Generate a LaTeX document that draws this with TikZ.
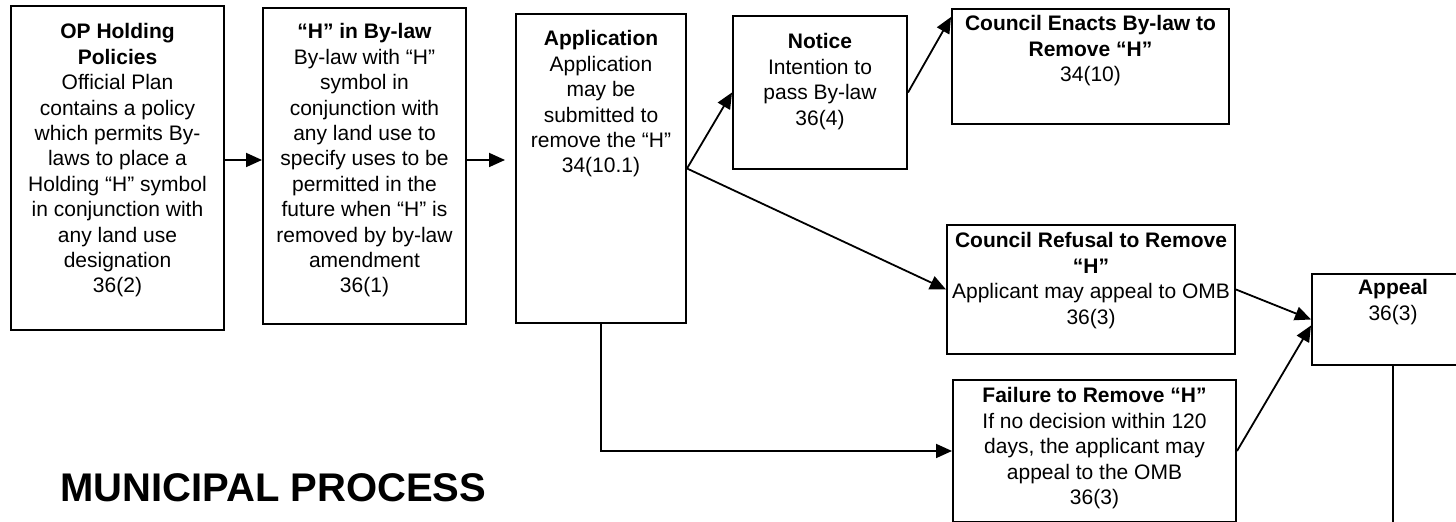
\documentclass[tikz,border=0pt]{standalone}
\usepackage{fontspec}
\setmainfont{Liberation Sans}
\usetikzlibrary{arrows.meta}
% text of a box: width, height, first baseline, lines
\newcommand{\boxtext}[4]{\parbox[t][#2][t]{#1}{\centering\rule{0pt}{#3}#4}}

\begin{document}
\begin{tikzpicture}[x=0.5pt, y=-0.5pt, >={Triangle[length=8pt,width=7pt]}]
	\tikzstyle{box}=[rectangle, draw=black, line width=1pt, inner sep=0pt, anchor=north west, font=\fontsize{10.5}{12.7}\selectfont]
	\tikzstyle{connect}=[->, line width=0.9pt]
	\useasboundingbox (0,0) rectangle (1456,522);
	\node[box] (op) at (10,5) {\boxtext{106.5pt}{162pt}{16.5pt}{\textbf{OP Holding}\\ \textbf{Policies}\\ Official Plan\\ contains a policy\\ which permits By-\\ laws to place a\\ Holding “H” symbol\\ in conjunction with\\ any land use\\ designation\\ 36(2)}};
	\node[box] (hbylaw) at (262,7) {\boxtext{101.5pt}{158pt}{15.5pt}{\textbf{“H” in By-law}\\ By-law with “H”\\ symbol in\\ conjunction with\\ any land use to\\ specify uses to be\\ permitted in the\\ future when “H” is\\ removed by by-law\\ amendment\\ 36(1)}};
	\node[box] (app) at (515,13) {\boxtext{85pt}{154.5pt}{16pt}{\textbf{Application}\\ Application\\ may be\\ submitted to\\ remove the “H”\\ 34(10.1)}};
	\node[box] (notice) at (732,15) {\boxtext{87pt}{76.5pt}{16.5pt}{\textbf{Notice}\\ Intention to\\ pass By-law\\ 36(4)}};
	\node[box] (enact) at (951,8) {\boxtext{138.5pt}{57.5pt}{11pt}{\textbf{Council Enacts By-law to}\\ \textbf{Remove “H”}\\ 34(10)}};
	\node[box] (refusal) at (946,224) {\boxtext{144pt}{64.5pt}{11.5pt}{\textbf{Council Refusal to Remove}\\ \textbf{“H”}\\ Applicant may appeal to OMB\\ 36(3)}};
	\node[box] (appeal) at (1311,273) {\boxtext{81pt}{45.5pt}{10.5pt}{\textbf{Appeal}\\ 36(3)}};
	\node[box] (failure) at (952,379) {\boxtext{141.5pt}{71pt}{11.5pt}{\textbf{Failure to Remove “H”}\\ If no decision within 120\\ days, the applicant may\\ appeal to the OMB\\ 36(3)}};
	\node[anchor=base west, inner sep=0pt, font=\bfseries\fontsize{20}{24}\selectfont] (title) at (60,502) {MUNICIPAL PROCESS};
	\coordinate (bottom) at (0,540);
	\path
	([yshift=4pt]op.east) edge [connect] ([yshift=3pt]hbylaw.west)
	([yshift=3pt]hbylaw.east) edge [connect] ([yshift=4.25pt,xshift=-5pt]app.west)
	(app.east) edge [connect] (notice.west)
	(app.east) edge [connect] (refusal.west)
	(notice.east) edge [connect] ([yshift=-4.5pt]enact.north west)
	(refusal.east) edge [connect] (appeal.west)
	(failure.east) edge [connect] ([yshift=-3pt]appeal.west)
	;
	\draw[connect] (app.south) |- (failure.west);
	\draw[line width=0.9pt] (appeal.south) -- (appeal.south |- bottom);
\end{tikzpicture}
\end{document}
